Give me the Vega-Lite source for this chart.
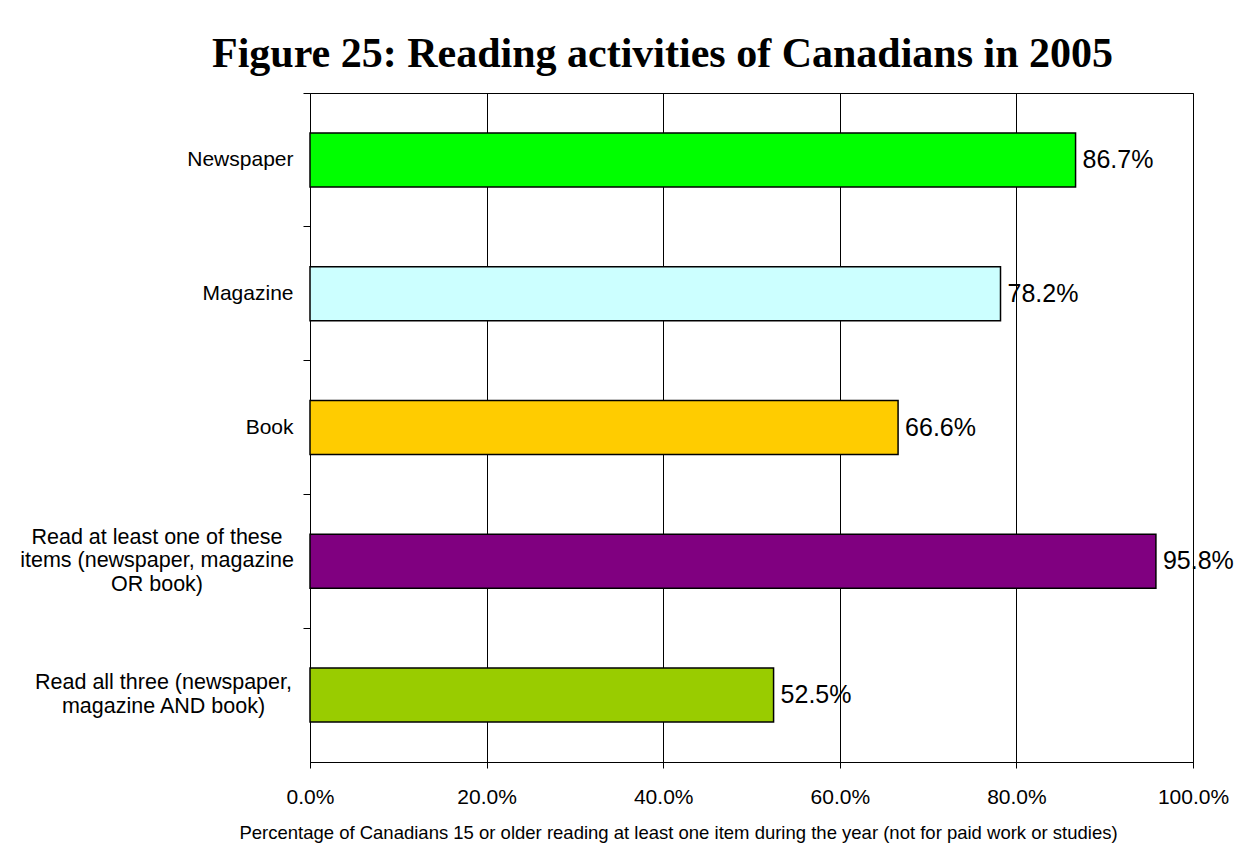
{
  "$schema": "https://vega.github.io/schema/vega-lite/v6.json",
  "autosize": "none",
  "width": 883,
  "height": 669,
  "padding": {"left": 310, "top": 93, "right": 60, "bottom": 92},
  "background": "white",
  "title": {
    "text": "Figure 25: Reading activities of Canadians in 2005",
    "font": "Liberation Serif",
    "fontSize": 42,
    "fontWeight": "bold",
    "color": "black",
    "anchor": "start",
    "frame": "group",
    "dx": -98,
    "offset": 17
  },
  "data": {
    "values": [
      {"category": "Newspaper", "value": 0.867},
      {"category": "Magazine", "value": 0.782},
      {"category": "Book", "value": 0.666},
      {"category": "Read at least one of these|items (newspaper, magazine|OR book)", "value": 0.958},
      {"category": "Read all three (newspaper,|magazine AND book)", "value": 0.525}
    ]
  },
  "config": {
    "view": {"stroke": "black", "strokeWidth": 1},
    "font": "Liberation Sans"
  },
  "encoding": {
    "y": {
      "field": "category",
      "type": "nominal",
      "sort": null,
      "scale": {"paddingInner": 0, "paddingOuter": 0},
      "axis": {
        "title": null,
        "labelExpr": "split(datum.label, '|')",
        "labelFont": "Liberation Sans",
        "labelFontSize": {"condition": {"test": "indexof(datum.value, '|') >= 0", "value": 21.5}, "value": 21},
        "labelOffset": {"condition": [
          {"test": "length(split(datum.value, '|')) == 3", "value": -23.5},
          {"test": "length(split(datum.value, '|')) == 2", "value": -11.75}
        ], "value": 0},
        "labelAlign": {"condition": {"test": "indexof(datum.value, '|') >= 0", "value": "center"}, "value": "right"},
        "labelPadding": {"condition": [
          {"test": "length(split(datum.value, '|')) == 3", "value": 146.5},
          {"test": "length(split(datum.value, '|')) == 2", "value": 140}
        ], "value": 10},
        "labelColor": "black",
        "labelLineHeight": 23.5,
        "labelLimit": 400,
        "tickSize": 7,
        "tickColor": "black",
        "tickWidth": 1,
        "bandPosition": 0,
        "domainColor": "black",
        "domainWidth": 1,
        "grid": false
      }
    },
    "x": {
      "field": "value",
      "type": "quantitative",
      "scale": {"domain": [0, 1], "nice": false},
      "axis": {
        "title": "Percentage of Canadians 15 or older reading at least one item during the year (not for paid work or studies)",
        "titleFont": "Liberation Sans",
        "titleFontSize": 18.5,
        "titleFontWeight": "normal",
        "titleColor": "black",
        "titleX": 368,
        "titleY": 76,
        "titleAnchor": null,
        "titleAlign": "center",
        "titleBaseline": "alphabetic",
        "values": [0, 0.2, 0.4, 0.6, 0.8, 1],
        "format": ".1%",
        "labelFont": "Liberation Sans",
        "labelFontSize": 21,
        "labelColor": "black",
        "labelPadding": 18,
        "labelFlush": false,
        "tickSize": 6,
        "tickColor": "black",
        "domainColor": "black",
        "grid": true,
        "gridColor": "black",
        "gridOpacity": 1,
        "gridWidth": 1
      }
    }
  },
  "layer": [
    {
      "mark": {"type": "bar", "size": 54, "stroke": "black", "strokeWidth": 1.5},
      "encoding": {
        "color": {
          "field": "category",
          "type": "nominal",
          "scale": {
            "domain": ["Newspaper", "Magazine", "Book", "Read at least one of these|items (newspaper, magazine|OR book)", "Read all three (newspaper,|magazine AND book)"],
            "range": ["#00FF00", "#CCFFFF", "#FFCC00", "#800080", "#99CC00"]
          },
          "legend": null
        }
      }
    },
    {
      "mark": {"type": "text", "align": "left", "baseline": "middle", "dx": 7, "fontSize": 25, "font": "Liberation Sans", "color": "black"},
      "encoding": {
        "text": {"field": "value", "type": "quantitative", "format": ".1%"}
      }
    }
  ]
}
